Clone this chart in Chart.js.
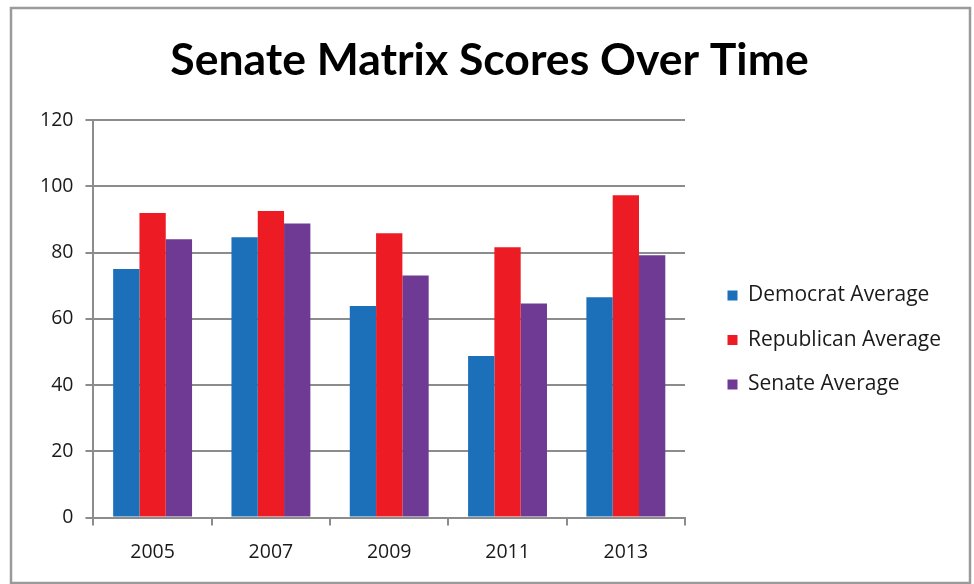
<!DOCTYPE html>
<html>
<head>
<meta charset="utf-8">
<script src="https://cdn.jsdelivr.net/npm/chart.js@4/dist/chart.umd.min.js"></script>
<style>
  html, body { margin: 0; padding: 0; background: #fff; }
  #wrap { position: relative; width: 974px; height: 584px; }
</style>
</head>
<body>
<div id="wrap"><canvas id="c" width="974" height="584"></canvas></div>
<script>
const categories = ["2005", "2007", "2009", "2011", "2013"];
const democratAverage = [75, 84.6, 63.9, 48.8, 66.5];
const republicanAverage = [91.9, 92.5, 85.8, 81.6, 97.3];
const senateAverage = [84.0, 88.8, 73.1, 64.6, 79.2];
const seriesNames = ["Democrat Average", "Republican Average", "Senate Average"];
const titleText = "Senate Matrix Scores Over Time";
const yMin = 0, yMax = 120, yStep = 20;

const frame = {
  id: 'frame',
  beforeLayout(chart) {
    const lg = chart.legend;
    if (lg && !lg._widePatched) {
      const orig = lg.update;
      lg.update = function (w, h, m) { return orig.call(this, Math.max(w, 300), h, m); };
      lg._widePatched = true;
    }
  },
  beforeDraw(chart) {
    const ctx = chart.ctx;
    ctx.save();
    ctx.fillStyle = '#fff';
    ctx.fillRect(0, 0, chart.width, chart.height);
    ctx.strokeStyle = '#9a9a9a';
    ctx.lineWidth = 2.5;
    ctx.strokeRect(11, 8, 959, 575);
    ctx.restore();
  }
};

new Chart(document.getElementById('c'), {
  type: 'bar',
  data: {
    labels: categories,
    datasets: [
      { label: seriesNames[0], data: democratAverage, backgroundColor: '#1b70b9' },
      { label: seriesNames[1], data: republicanAverage, backgroundColor: '#ed1c24' },
      { label: seriesNames[2], data: senateAverage, backgroundColor: '#6f3a94' }
    ]
  },
  options: {
    responsive: false,
    animation: false,
    devicePixelRatio: 1,
    layout: { padding: { left: 28, right: 23, top: 34, bottom: 5 } },
    datasets: { bar: { barPercentage: 1.0, categoryPercentage: 0.667 } },
    plugins: {
      title: {
        display: true,
        text: titleText,
        color: '#000',
        font: { family: 'Lato', size: 44.5, weight: 'bold' },
        padding: { top: 0, bottom: 32.6 }
      },
      legend: {
        position: 'right',
        title: { display: true, text: ' ', font: { size: 10 }, padding: { top: 0, bottom: 55 } },
        labels: {
          boxWidth: 10, boxHeight: 10,
          padding: 23.5,
          color: '#1a1a1a',
          font: { family: 'Open Sans', size: 21 }
        }
      },
      tooltip: { enabled: false }
    },
    scales: {
      x: {
        grid: { display: true, drawOnChartArea: false, drawTicks: true, tickLength: 8, color: '#8c8c8c', lineWidth: 2 },
        border: { display: true, color: '#8c8c8c', width: 2 },
        ticks: { color: '#1a1a1a', font: { family: 'Open Sans', size: 19.5 }, padding: 15 }
      },
      y: {
        min: yMin, max: yMax,
        grid: { color: '#8c8c8c', lineWidth: 2, tickLength: 8 },
        border: { display: true, color: '#8c8c8c', width: 2 },
        ticks: { stepSize: yStep, color: '#1a1a1a', font: { family: 'Open Sans', size: 19.5 }, padding: 12 }
      },
      gap: {
        type: 'linear', axis: 'y', position: 'right', display: true,
        grid: { display: false }, border: { display: false }, ticks: { display: false },
        afterFit(scale) { scale.width = 19; }
      }
    }
  },
  plugins: [frame]
});
</script>
</body>
</html>
